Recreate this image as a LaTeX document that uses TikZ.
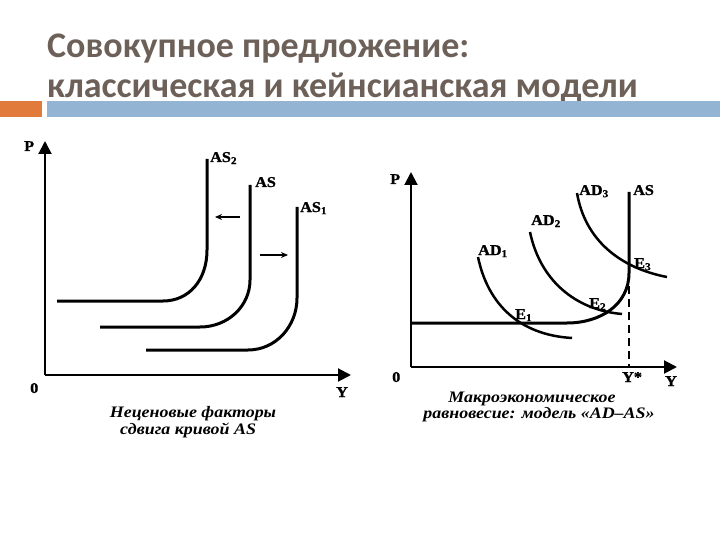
\documentclass[tikz,border=0pt]{standalone}
\usepackage{fontspec}
\setmainfont{Liberation Serif}
\newfontfamily\titlefont{Carlito}
\newfontfamily\capfont{Liberation Serif}[FakeStretch=1.12]
\newfontfamily\lblfont{Liberation Serif}[FakeStretch=1.08,BoldFeatures={FakeBold=1.2}]
\usetikzlibrary{arrows.meta}
\definecolor{titlecol}{HTML}{6D6059}
\definecolor{barorange}{HTML}{E07B3C}
\definecolor{barblue}{HTML}{94B4D4}
\tikzset{
  axisline/.style={line width=2pt,-{Triangle[width=13pt,length=13pt]}},
  thickcurve/.style={line width=3pt},
  lbl/.style={anchor=base west,inner sep=0pt,font=\lblfont\fontsize{15}{15}\selectfont\bfseries},
  captext/.style={anchor=base,inner sep=0pt,font=\capfont\fontsize{16}{16}\selectfont\bfseries\itshape},
  titletext/.style={anchor=base west,inner sep=0pt,text=titlecol,font=\titlefont\fontsize{36}{36}\selectfont\bfseries},
  shiftarrow/.style={line width=1.2pt,-{Stealth[width=6pt,length=7pt]}}
}
\begin{document}
\begin{tikzpicture}[x=1pt,y=-1pt]
\useasboundingbox (0,0) rectangle (720,540);
% title
\node[titletext] (t1) at (47,58) {Совокупное предложение:};
\node[titletext] (t2) at (47,98) {классическая и кейнсианская модели};
\fill[barorange] (0,101) rectangle (42,117);
\fill[barblue] (47,101) rectangle (720,117);

% ---------- left graph ----------
\coordinate (LO) at (45,375);
\coordinate (LP) at (45,141);
\coordinate (LY) at (351,375);
\draw[axisline] (LO) -- (LP);
\draw[axisline] (LO) -- (LY);
\node[lbl] (lp) at (24,151) {P};
\node[lbl] (l0) at (30,393) {0};
\node[lbl] (ly) at (336,397) {Y};

\draw[thickcurve] (57,301) -- (163,301) .. controls (189,301) and (207,280) .. (207,250) -- (207,159);
\draw[thickcurve] (100,327) -- (200,327) .. controls (228,327) and (250,306) .. (250,280) -- (250,185);
\draw[thickcurve] (146,350) -- (248,350) .. controls (276,350) and (297,326) .. (297,298) -- (297,207);
\node[lbl] (as2) at (210,162) {AS\textsubscript{2}};
\node[lbl] (as) at (255,187) {AS};
\node[lbl] (as1) at (300,212) {AS\textsubscript{1}};

\coordinate (la1) at (240,217);
\coordinate (la2) at (215,217);
\coordinate (ra1) at (260,255);
\coordinate (ra2) at (288,255);
\draw[shiftarrow] (la1) -- (la2);
\draw[shiftarrow] (ra1) -- (ra2);

\node[captext] (c1) at (193,417) {Неценовые факторы};
\node[captext] (c2) at (188,434) {сдвига кривой \textit{AS}};

% ---------- right graph ----------
\coordinate (RO) at (411,367);
\coordinate (RP) at (411,172);
\coordinate (RY) at (677,367);
\draw[axisline] (RO) -- (RP);
\draw[axisline] (RO) -- (RY);
\node[lbl] (rp) at (390,184) {P};
\node[lbl] (r0) at (392,382) {0};
\node[lbl] (rys) at (622,382) {Y*};
\node[lbl] (ry) at (665,386) {Y};

\coordinate (ystar) at (629,367);
\coordinate (ytop) at (629,273);
\draw[line width=1.5pt,dash pattern=on 8pt off 5pt] (ytop) -- (ystar);

\draw[thickcurve] (411,323) -- (567,323) .. controls (600,323) and (629,305) .. (629,273) -- (629,192);
\draw[thickcurve,line width=2.5pt] (478,257) .. controls (488,305) and (520,335) .. (572,338);
\draw[thickcurve,line width=2.5pt] (530,232) .. controls (540,280) and (575,310) .. (622,314);
\draw[thickcurve,line width=2.5pt] (577,193) .. controls (585,240) and (620,268) .. (667,277);

\node[lbl] (ras) at (633,195) {AS};
\node[lbl] (ad3) at (579,195) {AD\textsubscript{3}};
\node[lbl] (ad2) at (531,225) {AD\textsubscript{2}};
\node[lbl] (ad1) at (478,255) {AD\textsubscript{1}};
\node[lbl] (e3) at (634,268) {E\textsubscript{3}};
\node[lbl] (e2) at (589,308) {E\textsubscript{2}};
\node[lbl] (e1) at (515,319) {E\textsubscript{1}};

\node[captext] (c3) at (532,402) {Макроэкономическое};
\node[captext] (c4) at (539,418) {равновесие: модель «\textit{AD}–\textit{AS}»};
\end{tikzpicture}
\end{document}
